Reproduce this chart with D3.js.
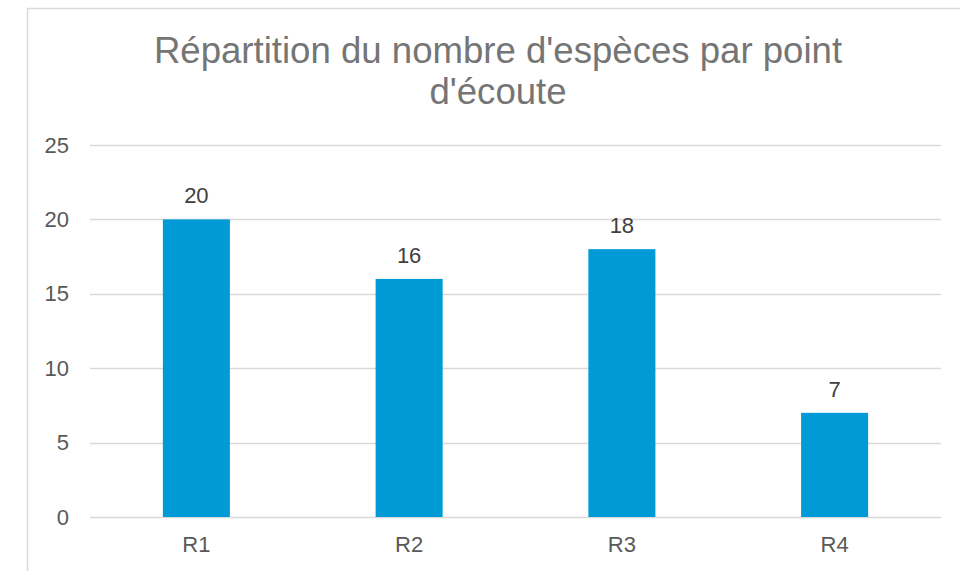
<!DOCTYPE html>
<html>
<head>
<meta charset="utf-8">
<script src="https://cdn.jsdelivr.net/npm/d3@7"></script>
<style>
  html, body { margin: 0; padding: 0; background: #fff; }
  svg { display: block; font-family: "Liberation Sans", Arial, sans-serif; }
</style>
</head>
<body>
<svg id="chart" width="960" height="571"></svg>
<script>
// Species counted at each listening point
const points = ["R1", "R2", "R3", "R4"];
const speciesCounts = [20, 16, 18, 7];
const yTicks = [0, 5, 10, 15, 20, 25];
const titleLines = ["Répartition du nombre d'espèces par point", "d'écoute"];

const svg = d3.select("#chart");
const W = 960, H = 571;
const labelSize = 22;

// Chart frame
svg.append("rect")
  .attr("x", 27.5).attr("y", 8.5)
  .attr("width", W).attr("height", H)
  .attr("fill", "#fff")
  .attr("stroke", "#d9d9d9").attr("stroke-width", 1.5);

// Title
svg.append("text")
  .attr("x", 498).attr("y", 63)
  .attr("text-anchor", "middle")
  .attr("fill", "#757575")
  .attr("font-size", 36.6)
  .selectAll("tspan").data(titleLines).join("tspan")
  .attr("x", 498)
  .attr("dy", (d, i) => i === 0 ? 0 : 40.5)
  .text(d => d);

const plot = { left: 90, right: 941, top: 145, bottom: 517 };

const x = d3.scaleBand().domain(points).range([plot.left, plot.right]).padding(0);
const y = d3.scaleLinear().domain([0, 25]).range([plot.bottom, plot.top]);

// Horizontal gridlines
svg.append("g")
  .selectAll("line").data(yTicks).join("line")
  .attr("x1", plot.left).attr("x2", plot.right)
  .attr("y1", d => Math.round(y(d)) + 0.5).attr("y2", d => Math.round(y(d)) + 0.5)
  .attr("stroke", "#d9d9d9").attr("stroke-width", 1.5);

// Y axis labels
const yAxis = d3.axisLeft(y).tickValues(yTicks).tickSize(0).tickPadding(0);
const gy = svg.append("g").attr("transform", "translate(69,0)").call(yAxis);
gy.select(".domain").remove();
gy.selectAll("text")
  .attr("font-family", "Liberation Sans, Arial, sans-serif")
  .attr("font-size", labelSize).attr("fill", "#595959");

// X axis labels
const xAxis = d3.axisBottom(x).tickSize(0).tickPadding(0);
const gx = svg.append("g").attr("transform", `translate(0,${plot.bottom + 19})`).call(xAxis);
gx.select(".domain").remove();
gx.selectAll("text")
  .attr("font-family", "Liberation Sans, Arial, sans-serif")
  .attr("font-size", labelSize).attr("fill", "#595959");

// Bars
const barW = x.bandwidth() * 0.315;
const data = points.map((p, i) => ({ p, v: speciesCounts[i] }));
svg.append("g")
  .selectAll("rect").data(data).join("rect")
  .attr("x", d => x(d.p) + (x.bandwidth() - barW) / 2)
  .attr("width", barW)
  .attr("y", d => y(d.v))
  .attr("height", d => y(0) - y(d.v))
  .attr("fill", "#009ad7");

// Value labels
svg.append("g")
  .selectAll("text").data(data).join("text")
  .attr("x", d => x(d.p) + x.bandwidth() / 2)
  .attr("y", d => y(d.v) - 16)
  .attr("text-anchor", "middle")
  .attr("font-size", labelSize)
  .attr("fill", "#404040")
  .text(d => d.v);
</script>
</body>
</html>
